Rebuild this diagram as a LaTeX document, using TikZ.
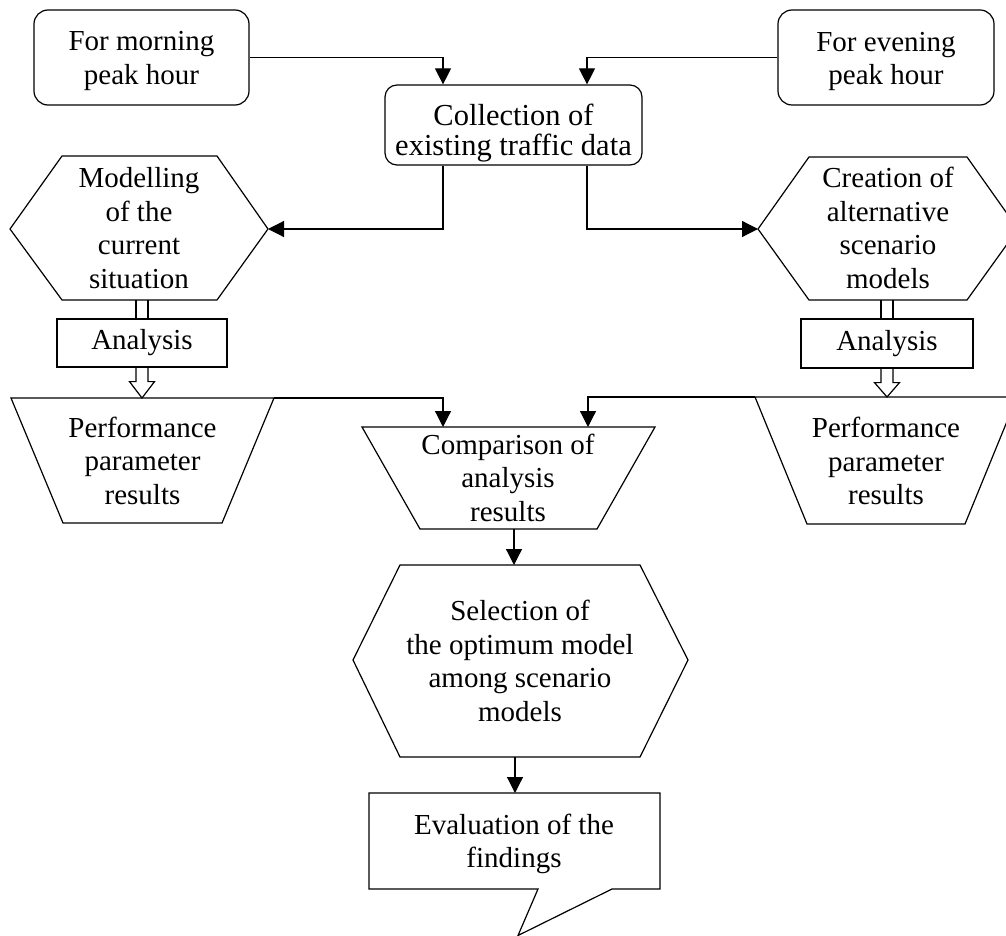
\documentclass[tikz,border=0pt]{standalone}
\usepackage{fontspec}
\setmainfont{Liberation Serif}
\usetikzlibrary{arrows.meta,calc}
\begin{document}
\begin{tikzpicture}[x=1pt,y=-1pt,
  shp/.style={draw, line width=1.2pt, line join=miter},
  conn/.style={line width=1.2pt, -{Triangle[length=16pt,width=16pt]}},
  txt/.style={font=\fontsize{29}{33.5}\selectfont, align=center, inner sep=0pt},
  rbox/.style={shp, rounded corners=14pt, inner sep=0pt}]
\useasboundingbox (0,0) rectangle (1006,936);
\fill[white] (0,0) rectangle (1006,936);
\clip (0,0) rectangle (1006,936);

% top boxes
\node[rbox, minimum width=215pt, minimum height=95pt] (mor) at (141.5,57.5) {};
\node[txt] (morT) at (141.5,61) {For morning\\peak hour};
\node[rbox, minimum width=216pt, minimum height=95pt] (eve) at (886,57.5) {};
\node[txt] (eveT) at (886,61.5) {For evening\\peak hour};
\node[rbox, rounded corners=12pt, minimum width=257pt, minimum height=80pt] (col) at (513.5,125) {};
\node[txt, font=\fontsize{30.5}{30}\selectfont] (colT) at (513.5,133) {Collection of\\existing traffic data};
\coordinate (colNL) at ($(col.north)+(-70.5,0)$);
\coordinate (colNR) at ($(col.north)+(73.5,0)$);
\coordinate (colSL) at ($(col.south)+(-70.5,0)$);
\coordinate (colSR) at ($(col.south)+(73.5,0)$);

% hexagons
\draw[shp] (10,229) coordinate (hexLw) -- (62,156) -- (217,156) -- (268,229) coordinate (hexLe)
  -- (217,300) -- (62,300) -- cycle;
\coordinate (hexLs) at (142,300);
\node[txt] (hexLT) at (139,228) {Modelling\\of the\\current\\situation};
\draw[shp] (758,229) coordinate (hexRw) -- (809,157) -- (967,157) -- (1018,229) coordinate (hexRe)
  -- (967,300) -- (809,300) -- cycle;
\coordinate (hexRs) at (887,300);
\node[txt] (hexRT) at (888,228) {Creation of\\alternative\\scenario\\models};

% analysis boxes
\node[shp, txt, minimum width=170pt, minimum height=48pt] (anL) at (142,343) {Analysis};
\node[shp, txt, minimum width=172pt, minimum height=49pt] (anR) at (887,343.5) {Analysis};

% trapezoids
\draw[shp] (11,398) -- (274,398) coordinate (trLne) -- (222,523) -- (63,523) -- cycle;
\coordinate (trLn) at (142,398);
\node[txt] (trLT) at (142.5,460.5) {Performance\\parameter\\results};
\draw[shp] (755,397) coordinate (trRnw) -- (1017,397) -- (965,524) -- (807,524) -- cycle;
\coordinate (trRn) at (887,397);
\node[txt] (trRT) at (886,461) {Performance\\parameter\\results};
\draw[shp] (362,427) -- (655,427) -- (597,529) -- (420,529) -- cycle;
\coordinate (cmpNL) at (443,427);
\coordinate (cmpNR) at (588,427);
\coordinate (cmpS) at (514,529);
\node[txt] (cmpT) at (508,477.5) {Comparison of\\analysis\\results};

% selection hexagon
\draw[shp] (353,660) -- (400,565) -- (640,565) -- (688,660) -- (640,757) -- (400,757) -- cycle;
\coordinate (selN) at (514,565);
\coordinate (selS) at (515,757);
\node[txt] (selT) at (520,661) {Selection of\\the optimum model\\among scenario\\models};

% callout
\draw[shp] (369,793) -- (660,793) -- (660,889) -- (612,889) -- (518,935.5) -- (538,889) -- (369,889) -- cycle;
\coordinate (evN) at (515,793);
\node[txt] (evT) at (514,844) {Evaluation of the\\findings};

% connectors
\draw[conn] (mor.east) -| (colNL);
\draw[conn] (eve.west) -| (colNR);
\draw[conn] (colSL) |- (hexLe);
\draw[conn] (colSR) |- (hexRw);
\draw[conn] (trLne) -| (cmpNL);
\draw[conn] (trRnw) -| (cmpNR);
\draw[conn] (cmpS) -- (selN);
\draw[conn] (selS) -- (evN);

% hollow connectors
\draw[shp] ($(hexLs)+(-6,0)$) -- ($(anL.north)+(-6,0)$) ($(hexLs)+(6,0)$) -- ($(anL.north)+(6,0)$);
\draw[shp] ($(anL.south)+(-6,0)$) -- ($(anL.south)+(-6,14)$) -- ($(anL.south)+(-12.5,14)$) -- (trLn)
  -- ($(anL.south)+(12.5,14)$) -- ($(anL.south)+(6,14)$) -- ($(anL.south)+(6,0)$);
\draw[shp] ($(hexRs)+(-6,0)$) -- ($(anR.north)+(-6,0)$) ($(hexRs)+(6,0)$) -- ($(anR.north)+(6,0)$);
\draw[shp] ($(anR.south)+(-6,0)$) -- ($(anR.south)+(-6,14)$) -- ($(anR.south)+(-12.5,14)$) -- (trRn)
  -- ($(anR.south)+(12.5,14)$) -- ($(anR.south)+(6,14)$) -- ($(anR.south)+(6,0)$);
\end{tikzpicture}
\end{document}
